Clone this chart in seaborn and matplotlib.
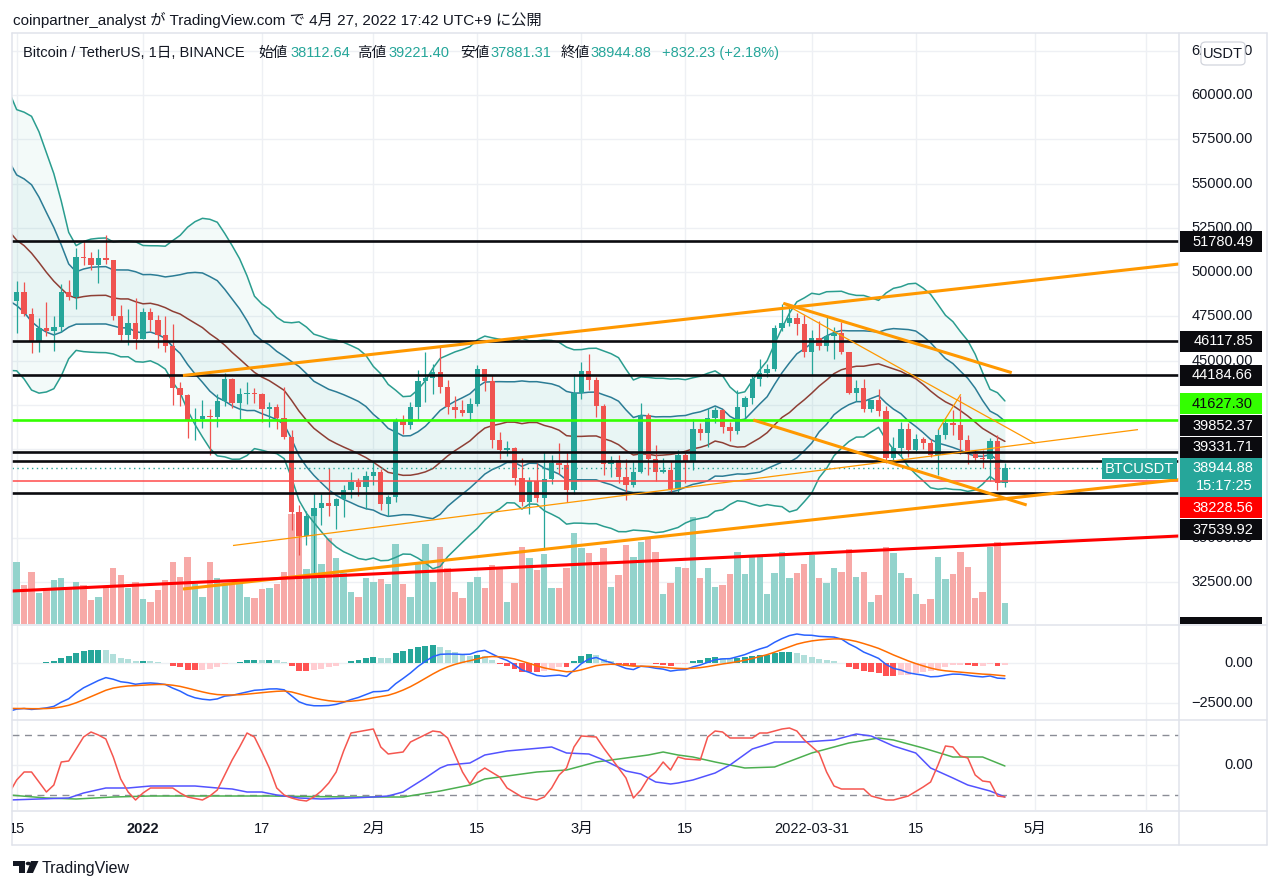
import numpy as np
import pandas as pd
import matplotlib
matplotlib.use("Agg")
import matplotlib.pyplot as plt
import matplotlib.dates as mdates
from matplotlib.patches import Rectangle, FancyBboxPatch, Circle, Polygon
from matplotlib.lines import Line2D
from matplotlib.transforms import Bbox, TransformedBbox, blended_transform_factory
import seaborn as sns

# closes before the visible range (Nov 1 - Dec 13 2021), only used to warm up BB / MACD
warmup_close = [61300, 63200, 62900, 61400, 61000, 61500, 63300, 67500, 66900, 64900,
                64800, 64100, 64400, 65500, 63600, 60100, 60400, 56900, 58100, 59700,
                58700, 56300, 57600, 57200, 58900, 53700, 54700, 57300, 57800, 56950,
                57200, 56500, 53600, 49200, 49400, 50500, 50600, 50500, 47600, 47100,
                49350, 50100, 46700]

# daily BTCUSDT candles, 2021-12-14 .. 2022-04-27
opens = [46702, 48343, 48864, 47632, 46131, 46834, 46681, 46914, 48889, 48588,
         50838, 50821, 50429, 50775, 50701, 47543, 46464, 47120, 46216, 47722,
         47286, 46446, 45833, 43451, 43082, 41566, 41679, 41864, 41822, 42736,
         43946, 42592, 43099, 43177, 43113, 42250, 42375, 41744, 40680, 36445,
         35071, 36244, 36660, 36958, 36810, 37160, 37716, 38166, 37882, 38467,
         38694, 36897, 37311, 41575, 41383, 42380, 43839, 44043, 44373, 43495,
         42373, 42217, 42053, 42535, 44544, 43873, 40515, 39974, 40079, 38386,
         37008, 38231, 37250, 38327, 39219, 39116, 37699, 43160, 44421, 43892,
         42455, 39148, 39397, 38420, 37988, 38730, 41941, 39422, 38730, 38807,
         37777, 39671, 39280, 41114, 40917, 41757, 42201, 41262, 41002, 42364,
         42882, 43991, 44313, 44511, 46827, 47122, 47434, 47067, 45510, 46283,
         45811, 46407, 46580, 45497, 43170, 43445, 42253, 42754, 42158, 39530,
         40075, 41148, 39942, 40552, 40378, 39679, 40802, 41494, 41374, 40527,
         39740, 39478, 39470, 40458, 38112.64]
highs = [48700, 49500, 49436, 47995, 47392, 48300, 47537, 49328, 49576, 51375,
         51810, 51156, 51280, 52088, 50704, 48116, 47900, 48548, 47954, 47990,
         47570, 47505, 47070, 43816, 43145, 42300, 42786, 42248, 43100, 44322,
         44000, 43447, 43800, 43478, 43179, 42691, 42564, 43505, 41100, 36835,
         36499, 37550, 37545, 38919, 37234, 38000, 38720, 38359, 38745, 39265,
         38855, 37387, 41772, 41913, 42656, 44500, 45492, 44799, 45821, 43920,
         43000, 42760, 42876, 44751, 44549, 44164, 40959, 40444, 40125, 39494,
         38429, 39249, 39843, 39683, 40348, 39855, 44225, 44949, 45400, 44101,
         42527, 39613, 39693, 39430, 39362, 42594, 42039, 40236, 39486, 39310,
         39947, 39887, 41718, 41478, 42325, 42400, 42296, 41544, 43361, 43025,
         44220, 45094, 44793, 46999, 48190, 48097, 47700, 47600, 46720, 47213,
         47444, 46890, 47200, 45507, 43900, 43970, 42800, 43410, 42414, 40699,
         41561, 41500, 40870, 40709, 40595, 41116, 41760, 42199, 42976, 40795,
         39980, 39940, 40616, 40797, 39221.40]
lows = [46290, 46547, 47511, 45456, 45500, 46406, 45558, 46630, 48421, 47920,
        50384, 50142, 49412, 50449, 47313, 46095, 45900, 45678, 46208, 46654,
        45696, 45502, 42500, 42430, 40610, 40501, 41200, 39650, 41268, 42452,
        42311, 41725, 42555, 42581, 41541, 41250, 41138, 40553, 35440, 34008,
        34601, 32917, 35701, 36234, 35507, 36155, 37268, 37351, 36632, 38000,
        36586, 36250, 37026, 40843, 41116, 41645, 42666, 43117, 43188, 42000,
        41748, 41870, 41570, 42427, 43307, 40073, 39450, 39639, 38000, 36800,
        36350, 37036, 34322, 38014, 38573, 37000, 37450, 42809, 43334, 41832,
        38550, 38407, 38088, 37155, 37867, 38656, 38539, 38223, 38660, 37578,
        37555, 38098, 38828, 40500, 40135, 41499, 40911, 40467, 40875, 41751,
        42560, 43579, 44071, 44422, 46664, 46930, 46445, 45200, 44200, 45620,
        45530, 45118, 45353, 43121, 42727, 42107, 42125, 41868, 39200, 39254,
        39588, 39552, 39770, 39991, 39546, 38536, 40571, 40820, 39751, 39177,
        39285, 38929, 38200, 37702, 37881.31]
closes = [48343, 48864, 47632, 46131, 46834, 46681, 46914, 48889, 48588, 50838,
          50821, 50429, 50775, 50701, 47543, 46464, 47120, 46216, 47722, 47286,
          46446, 45833, 43451, 43082, 41566, 41679, 41864, 41822, 42736, 43946,
          42592, 43099, 43177, 43113, 42250, 42375, 41744, 40680, 36445, 35071,
          36244, 36660, 36958, 36810, 37160, 37716, 38166, 37882, 38467, 38694,
          36897, 37311, 41575, 41383, 42380, 43839, 44043, 44373, 43495, 42373,
          42217, 42053, 42535, 44544, 43873, 40515, 39974, 40079, 38386, 37008,
          38231, 37250, 38327, 39219, 39116, 37699, 43160, 44421, 43892, 42455,
          39148, 39397, 38420, 37988, 38730, 41941, 39422, 38730, 38807, 37777,
          39671, 39280, 41114, 40917, 41757, 42201, 41262, 41002, 42364, 42882,
          43991, 44313, 44511, 46827, 47122, 47434, 47067, 45510, 46283, 45811,
          46407, 46580, 45497, 43170, 43445, 42253, 42754, 42158, 39530, 40075,
          41148, 39942, 40552, 40378, 39679, 40802, 41494, 41374, 40527, 39740,
          39478, 39470, 40458, 38112.65, 38944.88]
# volume, thousand BTC
volume_k = [38, 50, 31, 42, 25, 29, 35, 37, 29, 34,
            31, 19, 22, 29, 45, 39, 29, 34, 20, 18,
            27, 35, 50, 38, 54, 32, 22, 50, 37, 32,
            32, 33, 22, 21, 28, 29, 32, 42, 88, 86,
            44, 90, 48, 69, 53, 41, 26, 22, 37, 34,
            36, 32, 64, 32, 22, 50, 64, 34, 62, 45,
            26, 21, 34, 38, 29, 47, 45, 18, 33, 62,
            53, 43, 56, 29, 29, 45, 73, 61, 57, 50,
            61, 30, 39, 63, 54, 66, 70, 58, 24, 33,
            46, 45, 86, 37, 45, 30, 31, 40, 58, 40,
            55, 54, 24, 41, 58, 37, 41, 48, 55, 37,
            33, 45, 42, 60, 38, 42, 18, 23, 62, 57,
            41, 37, 24, 16, 20, 54, 36, 40, 58, 46,
            21, 26, 62, 66, 17]

# oscillator pane (days after 2021-12-15, value)
osc_red_day = [-1, 0, 1, 2, 4, 5, 6, 7, 9, 10, 11, 12, 13, 14, 15, 16, 17, 18, 21, 22,
               23, 25, 26, 27, 28, 29, 30, 31, 32, 33, 34, 35, 36, 37, 38, 39, 40, 41, 42, 43,
               44, 45, 48, 49, 50, 52, 53, 56, 57, 58, 59, 60, 61, 62, 63, 65, 66, 68, 70, 71,
               72, 73, 74, 75, 76, 78, 79, 80, 82, 83, 84, 85, 86, 87, 88, 89, 90, 92, 93, 94,
               95, 96, 99, 100, 101, 103, 104, 105, 106, 108, 109, 110, 111, 114, 115, 117, 118, 120, 122, 123,
               124, 125, 126, 127, 128, 129, 130, 131, 132, 133]
osc_red_val = [22, 35, 43, 43, 23, 30, 53, 54, 78, 83, 80, 76, 58, 36, 23, 15, 22, 27, 27, 22,
               18, 15, 19, 25, 40, 55, 68, 82, 78, 63, 47, 27, 20, 17, 15, 14, 18, 24, 32, 43,
               64, 82, 86, 68, 61, 63, 73, 84, 83, 77, 60, 43, 31, 42, 47, 38, 27, 18, 15, 18,
               27, 40, 47, 68, 79, 78, 67, 57, 37, 17, 25, 37, 43, 53, 45, 58, 56, 55, 78, 84,
               83, 77, 77, 82, 82, 86, 87, 84, 75, 62, 43, 29, 26, 26, 19, 15, 15, 19, 28, 33,
               50, 69, 68, 59, 57, 40, 34, 33, 19, 18]
osc_blue_day = [-1, 7, 9, 12, 15, 18, 24, 27, 29, 31, 33, 35, 38, 41, 45, 48, 50, 52, 55, 57,
                58, 61, 63, 66, 69, 72, 74, 77, 79, 82, 84, 86, 88, 89, 91, 94, 96, 99, 102, 106,
                110, 113, 115, 118, 121, 123, 126, 128, 131, 133]
osc_blue_val = [15, 17, 22, 27, 27, 29, 29, 27, 26, 23, 23, 20, 17, 16, 17, 18, 19, 23, 37, 47,
                50, 52, 60, 64, 66, 68, 62, 61, 55, 44, 41, 33, 31, 32, 35, 42, 50, 66, 73, 73,
                75, 81, 79, 69, 62, 47, 37, 30, 24, 18]
osc_green_day = [-1, 4, 8, 13, 18, 34, 45, 52, 57, 61, 63, 70, 74, 78, 82, 85, 87, 89, 91, 94,
                 98, 102, 107, 112, 116, 118, 122, 126, 130, 133]
osc_green_val = [20, 17, 16, 18, 19, 19, 18, 18, 24, 30, 36, 43, 45, 53, 57, 60, 63, 60, 58, 53,
                 47, 48, 62, 72, 77, 75, 67, 58, 58, 49]

black_levels = [51780.49, 46117.85, 44184.66, 39852.37, 39331.71, 37539.92]
green_level = 41627.30
red_level = 38228.56

# drawn trend lines: (start day, start price, end day, end price), days after 2021-12-15
orange_thick = [(22.38, 44161, 160, 50625), (22.38, 32106, 160, 38450),
                (103.18, 48238, 133.92, 44320), (99.14, 41649, 135.93, 36849)]
orange_thin = [(29.11, 34562, 150.91, 41107), (103.18, 48238, 137.05, 40333),
               (124.04, 41084, 127.06, 43100)]
red_trend = [(-3, 31946, 160, 35170)]

# price scale ticks (those fully hidden behind level tags are left out)
price_ticks = [32500, 35000, 45000, 47500, 50000, 52500, 55000, 57500, 60000, 62500]

x_labels = [("2021-12-15", "15"), ("2022-01-01", "2022"), ("2022-01-17", "17"),
            ("2022-02-01", "2月"), ("2022-02-15", "15"), ("2022-03-01", "3月"),
            ("2022-03-15", "15"), ("2022-04-01", "2022-03-31"), ("2022-04-15", "15"),
            ("2022-05-01", "5月"), ("2022-05-16", "16")]

# ---------------------------------------------------------------
sns.set_theme(style="white")
plt.rcParams['font.family'] = ['Liberation Sans', 'Noto Sans CJK JP']

DARK = '#131722'
TEAL = '#26a69a'
RED = '#ef5350'
GRID = '#eef0f4'
W, H = 1280, 890

fig = plt.figure(figsize=(W / 100, H / 100), dpi=100)
fig.patch.set_facecolor('white')

def fx(px):
    return px / W

def fy(py):
    return 1 - py / H

LEFT, RIGHT = 12, 1179

def panel(top, bottom, z):
    a = fig.add_axes([fx(LEFT), fy(bottom), fx(RIGHT) - fx(LEFT), fy(top) - fy(bottom)], zorder=z)
    a.set_axis_off()
    return a

ax_v = panel(33, 624, 0)
ax_p = panel(33, 624, 1)
ax_m = panel(625.5, 719.5, 1)
ax_s = panel(720, 810, 1)

base = mdates.date2num(pd.Timestamp("2021-12-15"))
xlim = (base - 0.63, base + 156.43)
for a in (ax_v, ax_p, ax_m, ax_s):
    a.set_xlim(*xlim)
ax_p.set_ylim(30130, 63501)
ax_v.set_ylim(0, 472.8)
ax_m.set_ylim(-3497, 2291)
ax_s.set_ylim(5, 95)

dates = pd.date_range("2021-12-14", periods=len(closes), freq="D")
xs = mdates.date2num(dates)
o, h, l, c = (np.array(v, dtype=float) for v in (opens, highs, lows, closes))
up = c >= o
n = len(closes)

# indicators from the closes
full = pd.Series(warmup_close + closes, dtype=float)
basis = full.rolling(20).mean()
sd = full.rolling(20).std(ddof=0)
bb = {k: (basis + m * sd).iloc[-n:].to_numpy() for k, m in
      (("u2", 2), ("u1", 1), ("b", 0), ("l1", -1), ("l2", -2))}
ema12 = full.ewm(span=12, adjust=False).mean()
ema26 = full.ewm(span=26, adjust=False).mean()
macd = ema12 - ema26
signal = macd.ewm(span=9, adjust=False).mean()
hist = macd - signal
hv = hist.iloc[-n:].to_numpy()
hp = hist.iloc[-n - 1:-1].to_numpy()
hcol = np.where(hv >= 0, np.where(hv > hp, '#26a69a', '#b2dfdb'),
                np.where(hv < hp, '#ff5252', '#ffcdd2'))

# gridlines
for day, _ in x_labels:
    xd = mdates.date2num(pd.Timestamp(day))
    for a in (ax_v, ax_m, ax_s):
        a.axvline(xd, color=GRID, lw=1, zorder=0)
hgrid = blended_transform_factory(ax_v.transAxes, ax_p.transData)
for p in range(30000, 65000, 2500):
    ax_v.plot([0, 1], [p, p], color=GRID, lw=1, transform=hgrid, zorder=0)
for v in (0, -2500):
    ax_m.axhline(v, color=GRID, lw=1, zorder=0)
ax_s.axhline(50, color=GRID, lw=1, zorder=0)

# volume overlay
ax_v.bar(xs, volume_k, width=0.86, color=np.where(up, '#93d3cc', '#f7a9a7'), linewidth=0, zorder=1)

# bollinger bands
ax_p.fill_between(xs, bb["l2"], bb["u2"], color=TEAL, alpha=0.05, lw=0, zorder=1)
ax_p.fill_between(xs, bb["l1"], bb["u1"], color=TEAL, alpha=0.05, lw=0, zorder=1)
for k, col in (("u2", '#2a9d8f'), ("l2", '#2a9d8f'), ("u1", '#2b7c95'), ("l1", '#2b7c95'), ("b", '#8e3f35')):
    sns.lineplot(x=xs, y=bb[k], ax=ax_p, color=col, lw=1.1, legend=False, estimator=None, zorder=2)

# candles
ccol = np.where(up, TEAL, RED)
ax_p.vlines(xs, l, h, colors=ccol, lw=0.9, zorder=3)
ax_p.bar(xs, np.maximum(np.abs(c - o), 55), bottom=np.minimum(o, c), width=0.72,
         color=ccol, linewidth=0, zorder=4)

# horizontal levels and drawings
for p in black_levels:
    ax_p.axhline(p, color='#0b0b0f', lw=1.9, zorder=5)
ax_p.axhline(green_level, color='#33ff00', lw=1.9, zorder=5)
ax_p.axhline(red_level, color='#ff4a4a', lw=1.1, zorder=5)
ax_p.axhline(closes[-1], color=TEAL, lw=1, ls=(0, (1, 2.5)), zorder=5)
for segs, col, lw in ((orange_thick, '#ff9800', 2.2), (orange_thin, '#ff9800', 0.9), (red_trend, '#ff0000', 2.2)):
    for d0, p0, d1, p1 in segs:
        ax_p.plot([base + d0, base + d1], [p0, p1], color=col, lw=lw, solid_capstyle='butt', zorder=6)

# MACD pane
ax_m.bar(xs, hv, width=0.8, color=hcol, linewidth=0, zorder=1)
sns.lineplot(x=xs, y=macd.iloc[-n:].to_numpy(), ax=ax_m, color='#2962ff', lw=1.1, legend=False, estimator=None, zorder=2)
sns.lineplot(x=xs, y=signal.iloc[-n:].to_numpy(), ax=ax_m, color='#ff6d00', lw=1.1, legend=False, estimator=None, zorder=2)

# oscillator pane
for v in (80, 20):
    ax_s.axhline(v, color='#8a8d96', lw=1, ls=(0, (5, 4)), zorder=1)
for days, vals, col in ((osc_green_day, osc_green_val, '#4caf50'),
                        (osc_blue_day, osc_blue_val, '#5353ff'),
                        (osc_red_day, osc_red_val, '#f5564f')):
    sns.lineplot(x=base + np.array(days, dtype=float), y=vals, ax=ax_s, color=col, lw=1.1,
                 legend=False, estimator=None, zorder=2)

# frame and separators
FRAME = '#e0e3eb'
for x0, y0, x1, y1 in ((LEFT, 33, 1267, 33), (LEFT, 845, 1267, 845), (LEFT, 33, LEFT, 845),
                       (1267, 33, 1267, 845), (RIGHT, 33, RIGHT, 845), (LEFT, 625, 1267, 625),
                       (LEFT, 720, 1267, 720), (LEFT, 811, 1267, 811)):
    fig.add_artist(Line2D([fx(x0), fx(x1)], [fy(y0), fy(y1)], color=FRAME, lw=1.1, zorder=2))

def data_py(ax, y):
    return H - ax.transData.transform((xlim[0], y))[1]

# right scale labels
AX_X = fx(1253)
for p in price_ticks:
    fig.text(AX_X, fy(data_py(ax_p, p)), f"{p:.2f}", ha='right', va='center', fontsize=10.5, color=DARK, zorder=3)
fig.text(AX_X, fy(data_py(ax_m, 0)), "0.00", ha='right', va='center', fontsize=10.5, color=DARK, zorder=3)
fig.text(AX_X, fy(data_py(ax_m, -2500)), "\u22122500.00", ha='right', va='center', fontsize=10.5, color=DARK, zorder=3)
fig.text(AX_X, fy(data_py(ax_s, 50)), "0.00", ha='right', va='center', fontsize=10.5, color=DARK, zorder=3)

def tag(top, bottom, face, x0=1180, x1=1262):
    fig.add_artist(Rectangle((fx(x0), fy(bottom)), fx(x1) - fx(x0), fy(top) - fy(bottom),
                             transform=fig.transFigure, facecolor=face, edgecolor='none', zorder=4))

BLACK = '#0b0b0f'
tags = [("51780.49", 241.7, BLACK, 'white'), ("46117.85", 341.2, BLACK, 'white'),
        ("44184.66", 375.3, BLACK, 'white'), ("41627.30", 403.5, '#33ff00', BLACK),
        ("39852.37", 425.8, BLACK, 'white'), ("39331.71", 447.2, BLACK, 'white'),
        ("38228.56", 507.5, '#ff0000', 'white'), ("37539.92", 529.5, BLACK, 'white')]
for txt, cy, face, tc in tags:
    tag(cy - 10.6, cy + 10.6, face)
    fig.text(AX_X, fy(cy), txt, ha='right', va='center', fontsize=10.5, color=tc, zorder=5)
tag(457.7, 496.9, TEAL)
fig.text(AX_X, fy(467.5), f"{closes[-1]:.2f}", ha='right', va='center', fontsize=10.5, color='white', zorder=5)
fig.text(AX_X, fy(486.5), "15:17:25", ha='right', va='center', fontsize=10.5, color='white', zorder=5)
tag(616.7, 624, BLACK)
tag(457.7, 479.3, TEAL, 1102, 1177)
fig.text(fx(1139.5), fy(468.5), "BTCUSDT", ha='center', va='center', fontsize=10.5, color='white', zorder=5)

# USDT button
fig.add_artist(FancyBboxPatch((fx(1201), fy(65)), fx(1245) - fx(1201), fy(42) - fy(65),
                              boxstyle="round,pad=0,rounding_size=0.004", transform=fig.transFigure,
                              facecolor='white', edgecolor='#d1d4dc', lw=0.9, zorder=4))
fig.text(fx(1223), fy(53.5), "USDT", ha='center', va='center', fontsize=10.5, color=DARK, zorder=5)

# time axis labels
clip = TransformedBbox(Bbox([[fx(LEFT), fy(845)], [fx(RIGHT), fy(811)]]), fig.transFigure)
for day, label in x_labels:
    xd = ax_s.transData.transform((mdates.date2num(pd.Timestamp(day)), 50))[0]
    t = fig.text(xd / W, fy(829), label, ha='center', va='center', fontsize=10.5, color=DARK,
                 fontweight='bold' if label == '2022' else 'normal')
    t.set_clip_box(clip)
    t.set_clip_on(True)

# header and legend line
fig.text(fx(13), fy(20), "coinpartner_analyst が TradingView.com で 4月 27, 2022 17:42 UTC+9 に公開",
         ha='left', va='center', fontsize=11, color=DARK)
chg = closes[-1] - closes[-2]
title_parts = [(23, "Bitcoin / TetherUS, 1日, BINANCE", DARK), (258, "始値", DARK),
               (290, f"{opens[-1]:.2f}", TEAL), (357, "高値", DARK), (388, f"{highs[-1]:.2f}", TEAL),
               (460, "安値", DARK), (490, f"{lows[-1]:.2f}", TEAL), (561, "終値", DARK),
               (590, f"{closes[-1]:.2f}", TEAL),
               (662, f"+{chg:.2f} (+{chg / closes[-2] * 100:.2f}%)", TEAL)]
for px, txt, col in title_parts:
    fig.text(fx(px), fy(53), txt, ha='left', va='center', fontsize=10.5, color=col, zorder=5)

# TradingView logo
fig.add_artist(Rectangle((fx(13), fy(866)), fx(25) - fx(13), fy(861) - fy(866), transform=fig.transFigure,
                         facecolor=DARK, edgecolor='none'))
fig.add_artist(Rectangle((fx(19), fy(873)), fx(25) - fx(19), fy(861) - fy(873), transform=fig.transFigure,
                         facecolor=DARK, edgecolor='none'))
fig.add_artist(Circle((fx(28.3), fy(863.5)), 2.6 / W, transform=fig.transFigure, facecolor=DARK, edgecolor='none'))
fig.add_artist(Polygon([(fx(31), fy(861)), (fx(38.5), fy(861)), (fx(33), fy(873)), (fx(26.5), fy(873))],
                       closed=True, transform=fig.transFigure, facecolor=DARK, edgecolor='none'))
fig.text(fx(42), fy(868), "TradingView", ha='left', va='center', fontsize=11.5, color=DARK)

fig.savefig("out.png", dpi=100, facecolor='white')
